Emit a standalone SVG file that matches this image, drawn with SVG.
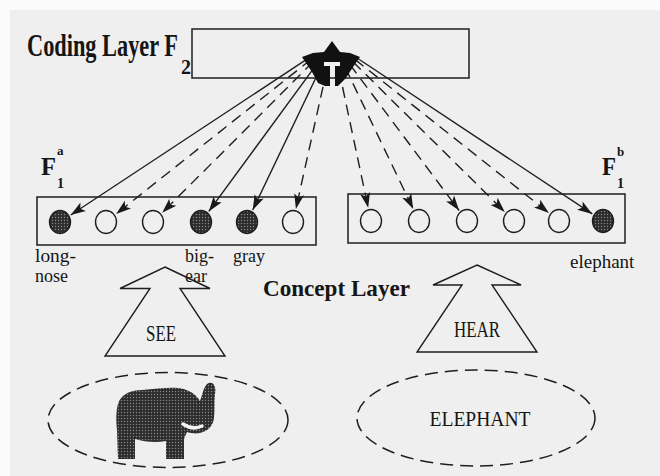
<svg xmlns="http://www.w3.org/2000/svg" width="660" height="476" viewBox="0 0 660 476">
  <style>
    .frame{fill:none;stroke:#1e1e1e;stroke-width:1.5}
    .node{stroke:#1e1e1e;stroke-width:1.4}
    .empty{fill:none}
    .on{fill:url(#stipple)}
    .link{fill:none;stroke:#1e1e1e;stroke-width:1.4;marker-end:url(#tip)}
    .dash{stroke-dasharray:11 7}
    .serif{font-family:"Liberation Serif","Times New Roman",serif;fill:#151515}
    .b{font-weight:bold}
    .lbl{font-size:18px}
    .sense{fill:none;stroke:#1e1e1e;stroke-width:1.4}
    .world{fill:none;stroke:#1e1e1e;stroke-width:1.5;stroke-dasharray:13 7}
  </style>
  <defs>
    <pattern id="stipple" width="3" height="3" patternUnits="userSpaceOnUse">
      <rect width="3" height="3" fill="#2c2c2c"/>
      <circle cx="1.5" cy="1.5" r="0.7" fill="#8a8a8a"/>
    </pattern>
    <marker id="tip" markerUnits="userSpaceOnUse" orient="auto" viewBox="-17 -7 19 14" refX="0" refY="0" markerWidth="19" markerHeight="14">
      <path d="M0,0 L-15,-5 L-11.5,0 L-15,5 Z" fill="#1a1a1a"/>
    </marker>
  </defs>

  <!-- page tone -->
  <rect width="660" height="476" fill="#fbfbfb"/>
  <rect x="10" y="10" width="650" height="466" fill="#efefef"/>

  <!-- coding layer F2 -->
  <g id="coding-layer">
    <rect class="frame" x="192" y="29" width="277" height="49"/>
    <text class="serif b" x="27" y="56" font-size="32"><tspan textLength="151" lengthAdjust="spacingAndGlyphs">Coding Layer F</tspan><tspan x="181" y="74" font-size="20">2</tspan></text>
  </g>

  <!-- feature field F1a -->
  <g id="field-a">
    <rect class="frame" x="37" y="197" width="279" height="48"/>
    <text class="serif b" x="41" y="175" font-size="26" textLength="15" lengthAdjust="spacingAndGlyphs">F</text>
    <text class="serif b" x="57" y="155" font-size="13">a</text>
    <text class="serif b" x="57" y="188" font-size="14">1</text>
  </g>
  <g id="node-long-nose"><ellipse class="node on" cx="60" cy="222" rx="10.5" ry="11.5"/></g>
  <g id="node-a2"><ellipse class="node empty" cx="106" cy="222" rx="10.5" ry="11.5"/></g>
  <g id="node-a3"><ellipse class="node empty" cx="153" cy="222" rx="10.5" ry="11.5"/></g>
  <g id="node-big-ear"><ellipse class="node on" cx="201" cy="222" rx="10.5" ry="11.5"/></g>
  <g id="node-gray"><ellipse class="node on" cx="247" cy="222" rx="10.5" ry="11.5"/></g>
  <g id="node-a6"><ellipse class="node empty" cx="293" cy="222" rx="10.5" ry="11.5"/></g>

  <!-- feature field F1b -->
  <g id="field-b">
    <rect class="frame" x="348" y="194" width="277" height="49"/>
    <text class="serif b" x="602" y="175" font-size="26" textLength="14" lengthAdjust="spacingAndGlyphs">F</text>
    <text class="serif b" x="617" y="156" font-size="13">b</text>
    <text class="serif b" x="617" y="188" font-size="14">1</text>
  </g>
  <g id="node-b1"><ellipse class="node empty" cx="371" cy="221" rx="10.5" ry="11.5"/></g>
  <g id="node-b2"><ellipse class="node empty" cx="419" cy="221" rx="10.5" ry="11.5"/></g>
  <g id="node-b3"><ellipse class="node empty" cx="467" cy="221" rx="10.5" ry="11.5"/></g>
  <g id="node-b4"><ellipse class="node empty" cx="514" cy="221" rx="10.5" ry="11.5"/></g>
  <g id="node-b5"><ellipse class="node empty" cx="559" cy="221" rx="10.5" ry="11.5"/></g>
  <g id="node-elephant"><ellipse class="node on" cx="603" cy="221" rx="10.5" ry="11.5"/></g>

  <!-- node labels -->
  <g id="labels">
    <text class="serif lbl" x="35" y="262" textLength="41" lengthAdjust="spacingAndGlyphs">long-</text>
    <text class="serif lbl" x="35" y="282">nose</text>
    <text class="serif lbl" x="185" y="262">big-</text>
    <text class="serif lbl" x="185" y="282">ear</text>
    <text class="serif lbl" x="233" y="262">gray</text>
    <text class="serif" x="570" y="268" font-size="19">elephant</text>
    <text class="serif b" x="263" y="296" font-size="23.5" textLength="147" lengthAdjust="spacingAndGlyphs">Concept Layer</text>
  </g>

  <!-- bottom-up links between F2 and the feature nodes; their upward heads merge into one mass -->
  <g id="connectors">
    <line class="link" x1="309.6" y1="57.4" x2="70.7" y2="215.0"/>
    <line class="link dash" x1="311.1" y1="59.4" x2="116.1" y2="214.0"/>
    <line class="link dash" x1="313.2" y1="61.8" x2="162.2" y2="212.8"/>
    <line class="link" x1="316.4" y1="64.6" x2="208.8" y2="211.4"/>
    <line class="link" x1="320.9" y1="67.3" x2="252.7" y2="210.0"/>
    <line class="link dash" x1="326.9" y1="69.3" x2="295.9" y2="208.9"/>
    <line class="link dash" x1="338.8" y1="69.4" x2="368.2" y2="207.8"/>
    <line class="link dash" x1="345.1" y1="67.2" x2="413.2" y2="209.0"/>
    <line class="link dash" x1="349.8" y1="64.4" x2="459.1" y2="210.5"/>
    <line class="link dash" x1="352.9" y1="61.7" x2="504.8" y2="211.9"/>
    <line class="link dash" x1="354.9" y1="59.4" x2="548.9" y2="213.0"/>
    <line class="link" x1="356.3" y1="57.5" x2="592.3" y2="213.9"/>
    <path id="merged-heads" fill="#111" d="M332,41 L340,52 L350,53 L360,57 L353,67 L346,78 L338,86 L335,86 L335,66 L340,66 L340,62 L324,62 L324,66 L330,66 L330,86 L325,86 L318,83 L312,72 L302,57 L313,53 L324,52 Z"/>
  </g>

  <!-- SEE channel -->
  <g id="see">
    <path class="sense" d="M165,267 L210,288.5 L180,288.5 L225,356 L105,356 L150,288.5 L120,288.5 Z"/>
    <text class="serif" x="161" y="341" font-size="24" text-anchor="middle" textLength="30" lengthAdjust="spacingAndGlyphs">SEE</text>
  </g>

  <!-- HEAR channel -->
  <g id="hear">
    <path class="sense" d="M477,265 L521,285 L492,285 L537,352 L417,352 L462,285 L433,285 Z"/>
    <text class="serif" x="477" y="337" font-size="24" text-anchor="middle" textLength="46" lengthAdjust="spacingAndGlyphs">HEAR</text>
  </g>

  <!-- visual input: an elephant -->
  <g id="visual-input">
    <ellipse class="world" cx="168" cy="420" rx="120" ry="47.5"/>
    <path fill="url(#stipple)" d="M118,404 C121,394 131,390 142,390 C155,389 168,387 178,388 C188,389 196,394 200,401 C202,396 203,390 205,387 C206,384 209,382 212,383 C215,385 216,389 215,394 C214,402 215,410 214,418 C213,426 208,431 200,433 C195,434 190,433 187,432 C186,435 184,437 184,440 L184,459 L166,459 L166,441 C156,443 145,442 135,439 L135,459 L118,459 L117,430 C116,420 116,411 118,404 Z"/>
    <path d="M183,424 C189,428 196,429 202,426" fill="none" stroke="#f4f4f4" stroke-width="3.5" stroke-linecap="round"/>
  </g>

  <!-- auditory input: the word -->
  <g id="auditory-input">
    <ellipse class="world" cx="476" cy="418" rx="119" ry="48"/>
    <text class="serif" x="480" y="426" font-size="22" text-anchor="middle" textLength="101" lengthAdjust="spacingAndGlyphs">ELEPHANT</text>
  </g>
</svg>
